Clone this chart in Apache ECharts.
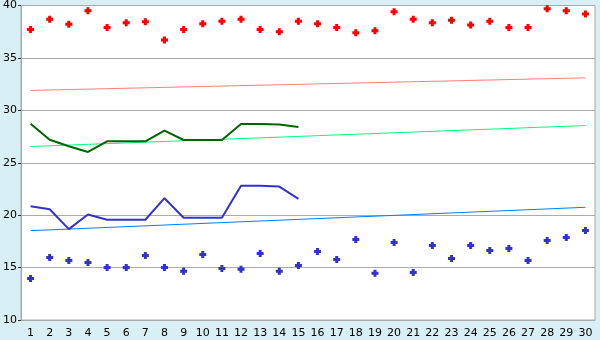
<!DOCTYPE html>
<html><head><meta charset="utf-8">
<script src="https://cdn.jsdelivr.net/npm/echarts@6/dist/echarts.min.js"></script>
<style>html,body{margin:0;padding:0;background:#d9eff6}#c{width:600px;height:340px}</style>
</head><body><div id="c"></div>
<script>
const days = ['1','2','3','4','5','6','7','8','9','10','11','12','13','14','15','16','17','18','19','20','21','22','23','24','25','26','27','28','29','30'];
const redPoints = [37.7,38.7,38.2,39.5,37.9,38.35,38.45,36.7,37.7,38.25,38.5,38.7,37.7,37.5,38.5,38.25,37.9,37.4,37.6,39.4,38.7,38.35,38.6,38.15,38.5,37.9,37.9,39.7,39.5,39.2];
const bluePoints = [13.97,15.97,15.68,15.49,15.0,15.0,16.16,15.0,14.64,16.25,14.92,14.83,16.35,14.64,15.21,16.54,15.78,17.68,14.45,17.4,14.54,17.11,15.87,17.11,16.64,16.83,15.68,17.59,17.87,18.54];
const greenLine = [28.73,27.2,26.57,26.03,27.05,27.05,27.05,28.07,27.17,27.17,27.17,28.7,28.7,28.65,28.4];
const blueLine = [20.86,20.57,18.67,20.07,19.56,19.56,19.56,21.62,19.75,19.75,19.75,22.8,22.8,22.73,21.55];
const redTrend = [31.9, 33.1];
const greenTrend = [26.55, 28.55];
const blueTrend = [18.52, 20.75];
const yTicks = [10,15,20,25,30,35,40];

const plus = 'path://M2,0H5V2H7V5H5V7H2V5H0V2H2Z';
function trend(v){ return [[0, v[0]], [days.length-1, v[1]]]; }
const chart = echarts.init(document.getElementById('c'), null, {renderer:'canvas'});
chart.setOption({
  backgroundColor:'#d9eff6',
  animation:false,
  textStyle:{fontFamily:'DejaVu Sans'},
  grid:{left:20,right:5,top:5,bottom:20,show:true,backgroundColor:'#ffffff',borderColor:'#aaaaaa',borderWidth:1,containLabel:false},
  xAxis:{type:'category',data:days,boundaryGap:true,
    axisLine:{lineStyle:{color:'#aaaaaa',width:1}},
    axisTick:{alignWithLabel:true,length:5,lineStyle:{color:'#333333'}},
    axisLabel:{color:'#000',fontSize:11,margin:8,interval:0,fontFamily:'DejaVu Sans'},
    splitLine:{show:false}},
  yAxis:{type:'value',min:yTicks[0],max:yTicks[yTicks.length-1],interval:5,
    axisLine:{show:true,lineStyle:{color:'#aaaaaa'}},
    axisTick:{show:true,length:3,lineStyle:{color:'#333333'}},
    axisLabel:{color:'#000',fontSize:11,margin:4,fontFamily:'DejaVu Sans'},
    splitLine:{lineStyle:{color:'#aaaaaa',width:1}}},
  series:[
    {type:'line',data:trend(redTrend),symbol:'none',lineStyle:{color:'#ff8080',width:1}},
    {type:'line',data:trend(greenTrend),symbol:'none',lineStyle:{color:'#00ff80',width:1}},
    {type:'line',data:trend(blueTrend),symbol:'none',lineStyle:{color:'#0080ff',width:1}},
    {type:'line',data:greenLine,symbol:'none',lineStyle:{color:'#006400',width:2}},
    {type:'line',data:blueLine,symbol:'none',lineStyle:{color:'#3333cc',width:2}},
    {type:'scatter',data:redPoints,symbol:plus,symbolSize:7,itemStyle:{color:'#ff0000',opacity:1}},
    {type:'scatter',data:bluePoints,symbol:plus,symbolSize:7,itemStyle:{color:'#3333cc',opacity:1}}
  ]
});
</script></body></html>
